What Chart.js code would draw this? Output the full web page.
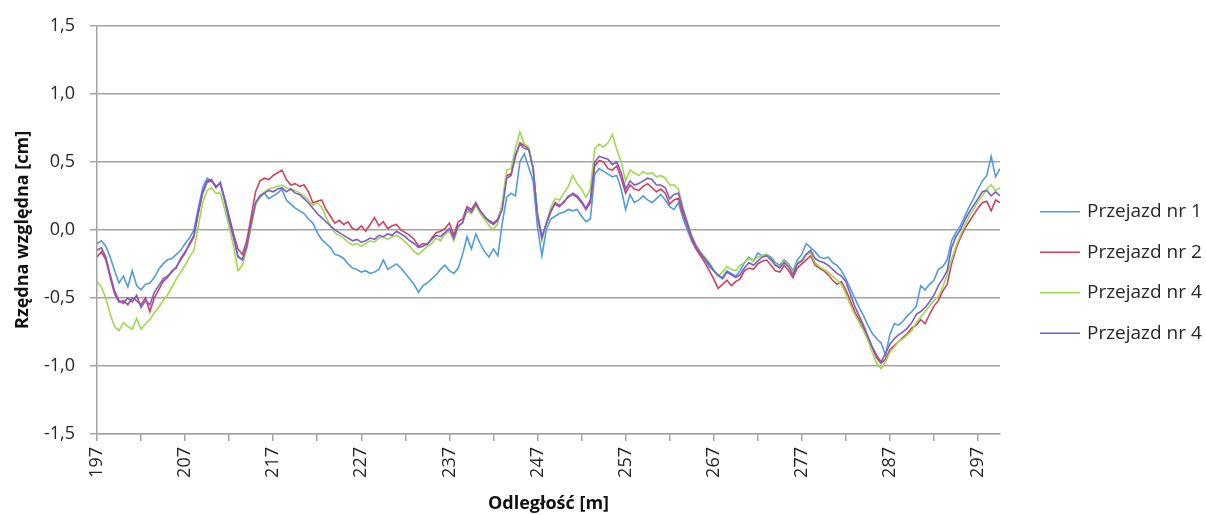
<!DOCTYPE html>
<html lang="pl">
<head>
<meta charset="utf-8">
<title>Rzędna względna – przejazdy</title>
<script src="https://cdn.jsdelivr.net/npm/chart.js@4.4.1/dist/chart.umd.min.js"></script>
<style>
  html, body { margin: 0; padding: 0; background: #ffffff; }
  #wrap { position: relative; width: 1206px; height: 515px; }
</style>
</head>
<body>
<div id="wrap"><canvas id="chart" width="1206" height="515"></canvas></div>
<script>
// Measurement grid: distance along the track [m], sampled every 0.5 m
const startDistance = 197;
const sampleStep = 0.5;

// Relative ordinate [cm] for each run
const przejazd1 = [
  -0.10,-0.08,-0.12,-0.20,-0.30,-0.39,-0.34,-0.42,-0.30,-0.41,
  -0.44,-0.40,-0.39,-0.35,-0.29,-0.25,-0.22,-0.21,-0.18,-0.15,
  -0.10,-0.06, 0.00, 0.16, 0.31, 0.38, 0.36, 0.32, 0.34, 0.21,
   0.06,-0.06,-0.19,-0.22,-0.12, 0.04, 0.19, 0.24, 0.27, 0.23,
   0.25, 0.27, 0.30, 0.22, 0.19, 0.16, 0.14, 0.12, 0.08, 0.05,
  -0.02,-0.07,-0.10,-0.13,-0.18,-0.19,-0.21,-0.25,-0.28,-0.29,
  -0.31,-0.30,-0.32,-0.31,-0.29,-0.22,-0.29,-0.27,-0.25,-0.28,
  -0.32,-0.36,-0.40,-0.46,-0.41,-0.39,-0.36,-0.33,-0.29,-0.26,
  -0.30,-0.32,-0.28,-0.18,-0.05,-0.14,-0.03,-0.10,-0.16,-0.20,
  -0.14,-0.19, 0.05, 0.24, 0.27, 0.25, 0.50, 0.56, 0.46, 0.36,
   0.02,-0.19, 0.00, 0.08, 0.10, 0.12, 0.13, 0.15, 0.14, 0.15,
   0.10, 0.06, 0.08, 0.41, 0.45, 0.43, 0.41, 0.39, 0.40, 0.30,
   0.15, 0.26, 0.20, 0.22, 0.25, 0.22, 0.20, 0.23, 0.26, 0.22,
   0.17, 0.15, 0.20, 0.09, 0.00,-0.08,-0.14,-0.18,-0.22,-0.27,
  -0.30,-0.34,-0.35,-0.30,-0.32,-0.34,-0.30,-0.24,-0.20,-0.23,
  -0.17,-0.19,-0.18,-0.20,-0.24,-0.26,-0.22,-0.25,-0.30,-0.22,
  -0.18,-0.10,-0.13,-0.16,-0.20,-0.21,-0.20,-0.24,-0.26,-0.30,
  -0.36,-0.43,-0.50,-0.57,-0.63,-0.70,-0.76,-0.80,-0.83,-0.92,
  -0.77,-0.69,-0.70,-0.67,-0.63,-0.60,-0.56,-0.41,-0.44,-0.40,
  -0.37,-0.29,-0.27,-0.22,-0.08,-0.02, 0.03, 0.10, 0.17, 0.23,
   0.30, 0.36, 0.40, 0.54, 0.39, 0.45
];

const przejazd2 = [
  -0.20,-0.16,-0.22,-0.35,-0.47,-0.53,-0.52,-0.55,-0.50,-0.52,
  -0.55,-0.50,-0.60,-0.50,-0.44,-0.38,-0.35,-0.30,-0.28,-0.21,
  -0.16,-0.11,-0.05, 0.12, 0.27, 0.35, 0.36, 0.32, 0.34, 0.23,
   0.10,-0.03,-0.14,-0.18,-0.08, 0.10, 0.28, 0.36, 0.38, 0.37,
   0.40, 0.42, 0.44, 0.37, 0.33, 0.34, 0.32, 0.33, 0.28, 0.20,
   0.21, 0.22, 0.15, 0.10, 0.05, 0.07, 0.04, 0.06, 0.01, 0.00,
   0.03,-0.01, 0.04, 0.09, 0.03, 0.06, 0.01, 0.03, 0.04, 0.00,
  -0.02,-0.04,-0.07,-0.12,-0.10,-0.11,-0.06,-0.02,-0.01, 0.01,
   0.05,-0.04, 0.06, 0.08, 0.17, 0.15, 0.20, 0.14, 0.09, 0.07,
   0.05, 0.08, 0.18, 0.40, 0.41, 0.54, 0.64, 0.62, 0.60, 0.46,
   0.12,-0.05, 0.04, 0.13, 0.20, 0.18, 0.20, 0.25, 0.26, 0.24,
   0.20, 0.15, 0.20, 0.47, 0.51, 0.50, 0.45, 0.44, 0.47, 0.38,
   0.27, 0.33, 0.30, 0.29, 0.32, 0.34, 0.31, 0.28, 0.30, 0.27,
   0.19, 0.22, 0.23, 0.12, 0.03,-0.07,-0.14,-0.19,-0.24,-0.30,
  -0.36,-0.43,-0.40,-0.37,-0.41,-0.38,-0.36,-0.30,-0.28,-0.29,
  -0.25,-0.23,-0.22,-0.26,-0.30,-0.31,-0.26,-0.30,-0.35,-0.28,
  -0.25,-0.22,-0.19,-0.26,-0.28,-0.30,-0.33,-0.37,-0.40,-0.38,
  -0.44,-0.52,-0.60,-0.66,-0.72,-0.80,-0.87,-0.94,-0.98,-0.95,
  -0.88,-0.85,-0.82,-0.79,-0.76,-0.72,-0.70,-0.66,-0.69,-0.62,
  -0.56,-0.52,-0.45,-0.40,-0.25,-0.14,-0.06, 0.01, 0.06, 0.11,
   0.16, 0.20, 0.21, 0.14, 0.22, 0.20
];

const przejazd4a = [
  -0.38,-0.42,-0.50,-0.62,-0.71,-0.74,-0.68,-0.71,-0.73,-0.65,
  -0.73,-0.69,-0.66,-0.61,-0.57,-0.52,-0.48,-0.42,-0.36,-0.31,
  -0.26,-0.20,-0.15, 0.03, 0.20, 0.29, 0.31, 0.27, 0.27, 0.15,
   0.02,-0.12,-0.30,-0.26,-0.14, 0.02, 0.18, 0.25, 0.28, 0.30,
   0.31, 0.32, 0.33, 0.31, 0.30, 0.29, 0.27, 0.25, 0.22, 0.18,
   0.20, 0.17, 0.09, 0.03,-0.02,-0.04,-0.06,-0.09,-0.11,-0.10,
  -0.12,-0.10,-0.08,-0.09,-0.06,-0.05,-0.07,-0.05,-0.04,-0.06,
  -0.09,-0.12,-0.16,-0.18,-0.15,-0.12,-0.10,-0.06,-0.08,-0.03,
  -0.01,-0.08, 0.02, 0.06, 0.14, 0.12, 0.18, 0.12, 0.08, 0.03,
   0.00, 0.05, 0.20, 0.44, 0.45, 0.60, 0.72, 0.63, 0.61, 0.46,
   0.10,-0.08, 0.05, 0.16, 0.23, 0.22, 0.27, 0.32, 0.40, 0.34,
   0.30, 0.24, 0.30, 0.60, 0.63, 0.61, 0.64, 0.70, 0.59, 0.50,
   0.36, 0.44, 0.42, 0.40, 0.43, 0.41, 0.42, 0.39, 0.40, 0.38,
   0.33, 0.33, 0.30, 0.17, 0.06,-0.04,-0.11,-0.16,-0.20,-0.24,
  -0.29,-0.34,-0.31,-0.27,-0.29,-0.30,-0.26,-0.24,-0.21,-0.23,
  -0.20,-0.19,-0.18,-0.22,-0.25,-0.27,-0.23,-0.26,-0.31,-0.24,
  -0.22,-0.18,-0.17,-0.24,-0.27,-0.29,-0.31,-0.34,-0.37,-0.40,
  -0.47,-0.55,-0.62,-0.68,-0.74,-0.81,-0.90,-0.98,-1.02,-0.97,
  -0.90,-0.86,-0.82,-0.80,-0.77,-0.74,-0.68,-0.64,-0.60,-0.56,
  -0.52,-0.49,-0.42,-0.33,-0.22,-0.12,-0.04, 0.03, 0.10, 0.15,
   0.21, 0.25, 0.30, 0.33, 0.29, 0.31
];

const przejazd4b = [
  -0.15,-0.13,-0.20,-0.33,-0.45,-0.52,-0.54,-0.50,-0.53,-0.48,
  -0.57,-0.52,-0.55,-0.46,-0.41,-0.36,-0.34,-0.31,-0.27,-0.22,
  -0.17,-0.10,-0.04, 0.14, 0.28, 0.36, 0.37, 0.31, 0.35, 0.22,
   0.08,-0.05,-0.20,-0.22,-0.12, 0.05, 0.20, 0.25, 0.27, 0.29,
   0.28, 0.30, 0.31, 0.28, 0.30, 0.27, 0.26, 0.23, 0.20, 0.16,
   0.12, 0.09, 0.06, 0.03, 0.00,-0.02,-0.04,-0.06,-0.08,-0.07,
  -0.09,-0.08,-0.06,-0.07,-0.04,-0.05,-0.03,-0.04,-0.01,-0.03,
  -0.05,-0.08,-0.10,-0.13,-0.12,-0.10,-0.07,-0.04,-0.05,-0.02,
   0.01,-0.06, 0.03, 0.05, 0.16, 0.13, 0.19, 0.14, 0.10, 0.06,
   0.04, 0.07, 0.15, 0.38, 0.40, 0.55, 0.63, 0.60, 0.59, 0.45,
   0.10,-0.06, 0.05, 0.14, 0.19, 0.17, 0.21, 0.24, 0.27, 0.25,
   0.21, 0.16, 0.22, 0.50, 0.54, 0.53, 0.52, 0.48, 0.50, 0.42,
   0.30, 0.36, 0.33, 0.34, 0.36, 0.38, 0.37, 0.33, 0.33, 0.31,
   0.23, 0.26, 0.27, 0.15, 0.05,-0.05,-0.12,-0.17,-0.21,-0.25,
  -0.30,-0.33,-0.36,-0.31,-0.33,-0.35,-0.33,-0.28,-0.24,-0.26,
  -0.23,-0.20,-0.19,-0.22,-0.26,-0.28,-0.24,-0.27,-0.33,-0.25,
  -0.23,-0.18,-0.15,-0.21,-0.23,-0.24,-0.26,-0.29,-0.32,-0.34,
  -0.38,-0.47,-0.56,-0.63,-0.70,-0.78,-0.86,-0.92,-0.97,-0.91,
  -0.84,-0.80,-0.77,-0.75,-0.72,-0.68,-0.62,-0.60,-0.57,-0.53,
  -0.48,-0.41,-0.36,-0.30,-0.13,-0.05, 0.00, 0.07, 0.13, 0.18,
   0.23, 0.28, 0.29, 0.25, 0.28, 0.25
];

const seriesLabels = ['Przejazd nr 1', 'Przejazd nr 2', 'Przejazd nr 4', 'Przejazd nr 4'];
const seriesColors = ['#4f9bdc', '#d2405f', '#9fd94c', '#7b5ccb'];

// Axis range and tick labels
const xMin = 197, xMax = 299.5;
const xTickLabels = ['197', '207', '217', '227', '237', '247', '257', '267', '277', '287', '297'];
const yMin = -1.5, yMax = 1.5, yStep = 0.5;

const distances = przejazd1.map((_, i) => startDistance + i * sampleStep);
const toPoints = arr => arr.map((v, i) => ({ x: distances[i], y: v }));

const gridColor = '#a3a3a3';
const textColor = '#262626';
const fontFamily = '"Open Sans", "DejaVu Sans", sans-serif';

// Legend drawn to the right of the plot area, lines with labels
const sideLegend = {
  id: 'sideLegend',
  afterDraw(chart) {
    const ctx = chart.ctx;
    const area = chart.chartArea;
    const x0 = area.right + 40;
    const lineLen = 40;
    const firstY = area.top + 186;
    const rowGap = 40.5;
    ctx.save();
    ctx.font = '19px ' + fontFamily;
    ctx.textBaseline = 'middle';
    ctx.textAlign = 'left';
    chart.data.datasets.forEach((ds, i) => {
      const y = firstY + i * rowGap;
      ctx.strokeStyle = ds.borderColor;
      ctx.lineWidth = 1.6;
      ctx.beginPath();
      ctx.moveTo(x0, y);
      ctx.lineTo(x0 + lineLen, y);
      ctx.stroke();
      ctx.fillStyle = textColor;
      ctx.fillText(ds.label, x0 + lineLen + 7, y);
    });
    ctx.restore();
  }
};

const datasets = [przejazd1, przejazd2, przejazd4a, przejazd4b].map((arr, i) => ({
  label: seriesLabels[i],
  data: toPoints(arr),
  borderColor: seriesColors[i],
  backgroundColor: seriesColors[i],
  borderWidth: 1.6,
  pointRadius: 0,
  tension: 0,
  fill: false,
  order: 4 - i
}));

new Chart(document.getElementById('chart'), {
  type: 'line',
  data: { datasets },
  plugins: [sideLegend],
  options: {
    responsive: false,
    animation: false,
    events: [],
    layout: { padding: { top: 21, right: 206, bottom: 0, left: 0 } },
    plugins: {
      legend: { display: false },
      tooltip: { enabled: false }
    },
    scales: {
      x: {
        type: 'linear',
        min: xMin,
        max: xMax,
        afterBuildTicks(scale) {
          const ticks = [];
          for (let v = xMin; v <= xMax; v += 5) ticks.push({ value: v });
          scale.ticks = ticks;
        },
        afterFit(scale) { scale.height = 81; },
        grid: {
          drawOnChartArea: false,
          drawTicks: true,
          tickLength: 7,
          color: gridColor,
          lineWidth: 1.5
        },
        border: { display: true, color: gridColor, width: 1.5 },
        ticks: {
          autoSkip: false,
          minRotation: 90,
          maxRotation: 90,
          padding: 6,
          color: textColor,
          font: { family: fontFamily, size: 18 },
          callback(value) {
            const idx = Math.round((value - xMin) / 10);
            return Math.abs(value - (xMin + idx * 10)) < 1e-6 ? xTickLabels[idx] : '';
          }
        },
        title: {
          display: true,
          text: 'Odległość [m]',
          color: '#111111',
          font: { family: fontFamily, size: 18, weight: 'bold' },
          padding: { top: 0, bottom: 0 }
        }
      },
      y: {
        min: yMin,
        max: yMax,
        afterFit(scale) { scale.width = 97; },
        grid: {
          drawTicks: true,
          tickLength: 7,
          color: gridColor,
          lineWidth: 1.5
        },
        border: { display: true, color: gridColor, width: 1.5 },
        ticks: {
          stepSize: yStep,
          padding: 15,
          color: textColor,
          font: { family: fontFamily, size: 18 },
          callback(value) { return value.toFixed(1).replace('.', ','); }
        },
        title: {
          display: true,
          text: 'Rzędna względna [cm]',
          color: '#111111',
          font: { family: fontFamily, size: 18, weight: 'bold' },
          padding: { top: 12, bottom: 0 }
        }
      }
    }
  }
});
</script>
</body>
</html>
